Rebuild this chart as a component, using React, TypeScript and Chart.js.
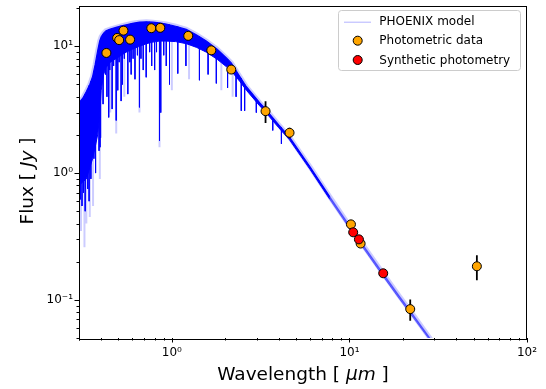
import React, { useEffect, useRef } from 'react';
import { Chart, registerables } from 'chart.js';

Chart.register(...registerables);

// PHOENIX model: upper edge and lower edge of the dense spectrum band (wavelength in µm, flux in Jy)
const modelWave = [0.3, 0.315, 0.33, 0.345, 0.358, 0.37, 0.382, 0.392, 0.4, 0.413, 0.426, 0.45, 0.485, 0.52, 0.553, 0.6, 0.657, 0.72, 0.782, 0.85, 0.929, 1.05, 1.206, 1.38, 1.563, 1.8, 2.03, 2.16, 2.41, 2.63, 3.12, 3.37, 4.0, 4.6, 6.0, 7.76, 10.2, 12.5, 15.5, 19.0, 22.0, 27.8, 31.0];
const modelTop = [3.6, 3.9, 4.4, 5.0, 5.8, 7.2, 9.2, 11.0, 11.9, 12.7, 13.3, 13.7, 14.1, 14.5, 14.8, 15.2, 15.5, 15.6, 15.5, 15.3, 15.0, 14.4, 13.6, 12.3, 11.0, 9.5, 8.1, 7.4, 5.8, 4.8, 3.6, 3.2, 2.4, 1.92, 1.12, 0.65, 0.37, 0.247, 0.161, 0.108, 0.082, 0.052, 0.042];
const modelLow = [0.8, 0.85, 0.9, 1.1, 1.3, 1.6, 2.0, 2.8, 4.5, 6.0, 6.8, 7.5, 8.0, 8.5, 9.0, 9.5, 10.0, 10.5, 10.8, 11.0, 11.0, 10.9, 10.5, 9.8, 9.0, 7.9, 6.9, 6.4, 5.3, 4.5, 3.4, 3.03, 2.28, 1.83, 1.07, 0.62, 0.352, 0.235, 0.153, 0.103, 0.078, 0.05, 0.04];

// absorption features of the model (wavelength, flux at top, flux at bottom of the line)
const lineWave = [0.305, 0.312, 0.318, 0.325, 0.336, 0.342, 0.35, 0.364, 0.372, 0.389, 0.394, 0.397, 0.41, 0.423, 0.431, 0.435, 0.441, 0.447, 0.461, 0.47, 0.486, 0.496, 0.505, 0.518, 0.527, 0.54, 0.565, 0.58, 0.59, 0.605, 0.62, 0.64, 0.657, 0.67, 0.69, 0.717, 0.75, 0.77, 0.8, 0.82, 0.852, 0.866, 0.9, 0.93, 0.97, 1.08, 1.2, 1.43, 1.6, 1.78, 2.06, 2.3, 2.46, 2.57, 2.99, 3.7, 4.14];
const lineTop = [3.7, 3.8, 4.0, 4.2, 4.6, 4.9, 5.3, 6.4, 7.4, 10, 11, 11.5, 12.5, 13, 13.3, 13.4, 13.5, 13.6, 13.8, 13.9, 14.1, 14.2, 14.3, 14.5, 14.5, 14.6, 14.9, 15, 15.1, 15.2, 15.3, 15.4, 15.5, 15.5, 15.5, 15.6, 15.6, 15.5, 15.4, 15.4, 15.3, 15.2, 15.1, 15, 14.8, 14.3, 13.6, 12, 10.8, 9.6, 7.9, 6.4, 5.6, 5.0, 3.8, 2.7, 2.3];
const lineLow = [0.62, 0.55, 0.7, 0.5, 0.75, 0.6, 0.9, 1.3, 1.0, 1.5, 1.6, 1.9, 3.5, 6.0, 4.0, 7.0, 2.75, 6.5, 3.2, 7.0, 2.6, 4.5, 7.5, 3.7, 5.0, 8.0, 4.2, 7.5, 6.0, 8.0, 5.5, 8.5, 3.3, 8.0, 6.5, 5.7, 9.0, 7.0, 6.5, 9.0, 1.8, 3.0, 8.5, 7.0, 5.0, 6.1, 7.0, 5.4, 6.0, 5.1, 4.7, 4.0, 3.1, 3.1, 3.0, 2.17, 1.7];

const faintWave = [0.308, 0.322, 0.33, 0.345, 0.36, 0.393, 0.45, 0.486, 0.54, 0.657, 0.852, 1.0, 1.25, 1.9, 2.2];
const faintTop = [3, 3.5, 4, 4.5, 5.5, 10, 13.5, 14, 14.7, 15.5, 15.3, 14.8, 13.4, 8.8, 7];
const faintLow = [0.35, 0.26, 0.4, 0.45, 0.55, 0.9, 3.0, 2.05, 4.0, 3.0, 1.6, 4.5, 5.5, 4.5, 4.0];

// Photometric data
const photWave = [0.428, 0.492, 0.505, 0.534, 0.582, 0.766, 0.861, 1.237, 1.668, 2.16, 3.37, 4.6, 10.2, 11.56, 22.0, 52.2];
const photFlux = [8.87, 11.65, 11.2, 13.3, 11.3, 13.9, 14.0, 12.1, 9.3, 6.56, 3.08, 2.08, 0.394, 0.278, 0.0845, 0.184];
const photErr = [0, 0, 0, 0, 0, 0, 0, 0, 0, 0, 0.6, 0.2, 0, 0, 0.016, 0.041];

// Synthetic photometry
const synthWave = [10.5, 11.31, 15.5];
const synthFlux = [0.341, 0.3, 0.162];

const legendLabels = ['PHOENIX model', 'Photometric data', 'Synthetic photometry'];
const xTitle = ['Wavelength [ ', 'μm', ' ]'];
const yTitle = ['Flux [ ', 'Jy', ' ]'];

const SUP: Record<string, string> = { '-': '⁻', '0': '⁰', '1': '¹', '2': '²', '3': '³' };
const isPow10 = (v: number) => Math.abs(Math.log10(v) - Math.round(Math.log10(v))) < 1e-6;
const fmt = (v: number) => {
  if (!isPow10(v)) return '';
  const e = String(Math.round(Math.log10(v)));
  return '10' + e.split('').map((c) => SUP[c]).join('');
};
const keepStd = (scale: any) => {
  scale.ticks = scale.ticks.filter((t: any) => {
    const e = Math.floor(Math.log10(t.value) + 1e-9);
    const m = t.value / Math.pow(10, e);
    return Math.abs(m - Math.round(m)) < 1e-6;
  });
};

const pairs = (xs: number[], ys: number[]) => xs.map((x, i) => ({ x, y: ys[i] }));
const segments = (xs: number[], hi: number[], lo: number[]) => {
  const out: any[] = [];
  xs.forEach((x, i) => {
    out.push({ x, y: hi[i] }, { x, y: lo[i] }, { x, y: null });
  });
  return out;
};

const FONT = "'DejaVu Sans', sans-serif";

function drawMixed(ctx: CanvasRenderingContext2D, parts: string[], size: number) {
  const fonts = [`${size}px ${FONT}`, `italic ${size}px ${FONT}`, `${size}px ${FONT}`];
  const widths = parts.map((p, i) => {
    ctx.font = fonts[i];
    return ctx.measureText(p).width;
  });
  const total = widths.reduce((a, b) => a + b, 0);
  let x = -total / 2;
  parts.forEach((p, i) => {
    ctx.font = fonts[i];
    ctx.fillText(p, x, 0);
    x += widths[i];
  });
}

const decor = {
  id: 'decor',
  afterDraw(chart: any) {
    const ctx: CanvasRenderingContext2D = chart.ctx;
    const { left, right, top, bottom } = chart.chartArea;
    ctx.save();
    ctx.strokeStyle = '#000';
    ctx.lineWidth = 1;
    // ticks
    const xs = chart.scales.x;
    xs.ticks.forEach((t: any) => {
      const p = Math.round(xs.getPixelForValue(t.value)) + 0.5;
      const len = isPow10(t.value) ? 4.5 : 2.5;
      ctx.beginPath();
      ctx.moveTo(p, bottom);
      ctx.lineTo(p, bottom + len);
      ctx.stroke();
    });
    const ys = chart.scales.y;
    ys.ticks.forEach((t: any) => {
      const p = Math.round(ys.getPixelForValue(t.value)) + 0.5;
      const len = isPow10(t.value) ? 4.5 : 2.5;
      ctx.beginPath();
      ctx.moveTo(left, p);
      ctx.lineTo(left - len, p);
      ctx.stroke();
    });
    // frame
    ctx.strokeRect(Math.round(left) + 0.5, Math.round(top) + 0.5, Math.round(right - left) - 1, Math.round(bottom - top));

    // legend
    const lx = 338.5, ly = 10.5, lw = 182, lh = 60, r = 3;
    ctx.beginPath();
    ctx.moveTo(lx + r, ly);
    ctx.arcTo(lx + lw, ly, lx + lw, ly + lh, r);
    ctx.arcTo(lx + lw, ly + lh, lx, ly + lh, r);
    ctx.arcTo(lx, ly + lh, lx, ly, r);
    ctx.arcTo(lx, ly, lx + lw, ly, r);
    ctx.closePath();
    ctx.fillStyle = 'rgba(255,255,255,0.8)';
    ctx.fill();
    ctx.strokeStyle = '#cccccc';
    ctx.stroke();
    const ds = chart.data.datasets;
    const rows = [21.7, 40.7, 60];
    ctx.strokeStyle = 'rgba(0,0,255,0.3)';
    ctx.lineWidth = 1;
    ctx.beginPath();
    ctx.moveTo(344, rows[0] + 0.5);
    ctx.lineTo(371, rows[0] + 0.5);
    ctx.stroke();
    [ds[6], ds[7]].forEach((d: any, i: number) => {
      ctx.beginPath();
      ctx.arc(357.7, rows[i + 1], d.pointRadius, 0, Math.PI * 2);
      ctx.fillStyle = d.pointBackgroundColor;
      ctx.fill();
      ctx.strokeStyle = '#000';
      ctx.lineWidth = 1;
      ctx.stroke();
    });
    ctx.fillStyle = '#000';
    ctx.font = `12px ${FONT}`;
    ctx.textBaseline = 'middle';
    ctx.textAlign = 'left';
    legendLabels.forEach((s, i) => ctx.fillText(s, 379.3, rows[i] + 0.5));

    // axis titles
    ctx.textBaseline = 'alphabetic';
    ctx.textAlign = 'left';
    ctx.save();
    ctx.translate((left + right) / 2, 379.5);
    drawMixed(ctx, xTitle, 18.5);
    ctx.restore();
    ctx.save();
    ctx.translate(33, 181);
    ctx.rotate(-Math.PI / 2);
    drawMixed(ctx, yTitle, 18.5);
    ctx.restore();
    ctx.restore();
  },
};

export default function App() {
  const ref = useRef<HTMLCanvasElement>(null);
  useEffect(() => {
    if (!ref.current) return;
    Chart.defaults.font.family = FONT;
    const tailColor = (c: any) => (c.p0.parsed.x >= 7.7 ? 'rgba(0,0,255,0.45)' : '#0000ff');
    const errData = segments(
      photWave.filter((_, i) => photErr[i] > 0),
      photFlux.map((f, i) => f + photErr[i]).filter((_, i) => photErr[i] > 0),
      photFlux.map((f, i) => f - photErr[i]).filter((_, i) => photErr[i] > 0)
    );
    const chart = new Chart(ref.current, {
      type: 'line',
      data: {
        datasets: [
          { label: 'halo', data: pairs(modelWave, modelTop), borderColor: 'rgba(0,0,255,0.2)', borderWidth: 5, pointRadius: 0, order: 10 },
          { label: 'PHOENIX model', data: pairs(modelWave, modelTop), borderColor: '#0000ff', borderWidth: 1.2, pointRadius: 0, order: 8, segment: { borderColor: tailColor } },
          { label: 'low', data: pairs(modelWave, modelLow), borderColor: '#0000ff', backgroundColor: '#0000ff', borderWidth: 1, pointRadius: 0, fill: 1, order: 7, segment: { borderColor: tailColor, backgroundColor: tailColor } },
          { label: 'faint', data: segments(faintWave, faintTop, faintLow), borderColor: 'rgba(0,0,255,0.2)', borderWidth: 2, pointRadius: 0, spanGaps: false, order: 9 },
          { label: 'lines', data: segments(lineWave, lineTop, lineLow), borderColor: '#0000ff', borderWidth: 1, pointRadius: 0, spanGaps: false, order: 6 },
          { label: 'err', data: errData, borderColor: '#000', borderWidth: 1.8, pointRadius: 0, spanGaps: false, order: 3 },
          { label: 'Photometric data', data: pairs(photWave, photFlux), showLine: false, pointRadius: 4.5, pointBackgroundColor: '#ffa500', pointBorderColor: '#000', pointBorderWidth: 1, order: 2 },
          { label: 'Synthetic photometry', data: pairs(synthWave, synthFlux), showLine: false, pointRadius: 4.5, pointBackgroundColor: '#ff0000', pointBorderColor: '#000', pointBorderWidth: 1, order: 1 },
        ] as any,
      },
      options: {
        responsive: false,
        animation: false,
        events: [],
        layout: { padding: { top: 5, right: 19, left: 0, bottom: 0 } },
        plugins: { legend: { display: false }, tooltip: { enabled: false } },
        elements: { line: { tension: 0 } },
        scales: {
          x: {
            type: 'logarithmic', min: 0.3, max: 100,
            afterBuildTicks: keepStd,
            afterFit: (s: any) => { s.height = 51; s.paddingLeft = 0; s.paddingRight = 0; },
            grid: { display: false, drawTicks: false },
            border: { display: false },
            ticks: { autoSkip: false, maxRotation: 0, padding: 8, color: '#000', font: { size: 12, family: FONT }, callback: (v: any) => fmt(Number(v)) },
          },
          y: {
            type: 'logarithmic', min: 0.05, max: 21,
            afterBuildTicks: keepStd,
            afterFit: (s: any) => { s.width = 79; s.paddingTop = 0; s.paddingBottom = 0; },
            grid: { display: false, drawTicks: false },
            border: { display: false },
            ticks: { autoSkip: false, padding: 6, color: '#000', font: { size: 12, family: FONT }, callback: (v: any) => fmt(Number(v)) },
          },
        },
      } as any,
      plugins: [decor],
    });
    return () => chart.destroy();
  }, []);
  return (
    <div style={{ position: 'fixed', left: 0, top: 0, width: 546, height: 389, background: '#fff' }}>
      <canvas ref={ref} width={546} height={389} style={{ display: 'block' }} />
    </div>
  );
}
